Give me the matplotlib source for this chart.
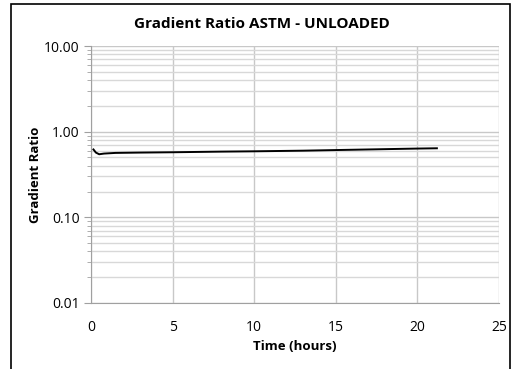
import numpy as np
import matplotlib
matplotlib.use("Agg")
import matplotlib.pyplot as plt
from matplotlib.ticker import FixedLocator, FormatStrFormatter, NullFormatter
from matplotlib.patches import Rectangle

# values
hours = [0.15, 0.3, 0.5, 0.8, 1.5, 3, 5, 8, 10, 13, 15, 18, 20, 21.2]
ratio = [0.62, 0.57, 0.545, 0.555, 0.565, 0.57, 0.575, 0.585, 0.59, 0.60, 0.61, 0.625, 0.635, 0.64]

xticks = [0, 5, 10, 15, 20, 25]
yticks = [0.01, 0.1, 1, 10]

plt.rcParams['font.family'] = ['Open Sans', 'DejaVu Sans']

fig = plt.figure(figsize=(5.15, 3.69), dpi=100)
ax = fig.add_axes([0.1767, 0.1789, 0.792, 0.6964])

ax.plot(hours, ratio, color='black', lw=1.4)
ax.set_yscale('log')
ax.set_xlim(0, 25)
ax.set_ylim(0.01, 10)
ax.set_xticks(xticks)
ax.yaxis.set_major_locator(FixedLocator(yticks))
ax.yaxis.set_major_formatter(FormatStrFormatter('%.2f'))
minors = [m * d for d in [0.01, 0.1, 1] for m in range(2, 10)]
ax.yaxis.set_minor_locator(FixedLocator(minors))
ax.yaxis.set_minor_formatter(NullFormatter())

ax.grid(True, which='major', color='#c8c8c8', lw=1)
ax.grid(True, which='minor', axis='y', color='#d8d8d8', lw=1)
for s in ['top', 'right']:
    ax.spines[s].set_visible(False)
for s in ['left', 'bottom']:
    ax.spines[s].set_color('#a0a0a0')
ax.tick_params(axis='x', length=0, pad=12, labelsize=10)
ax.tick_params(axis='y', which='major', length=5, color='#a0a0a0', labelsize=10, pad=3)
ax.tick_params(axis='y', which='minor', length=3, color='#a0a0a0')

fig.text(0.509, 0.935, 'Gradient Ratio ASTM - UNLOADED', fontsize=11, fontweight='bold',
         ha='center', va='center')
ax.set_xlabel('Time (hours)', fontsize=9.5, fontweight='bold', labelpad=4)
ax.set_ylabel('Gradient Ratio', fontsize=9.5, fontweight='bold')
ax.yaxis.set_label_coords(-0.12, 0.5)

fig.patches.append(Rectangle((0.021, -0.01), 0.97, 1.0, transform=fig.transFigure,
                             fill=False, edgecolor='black', lw=1.2))

fig.savefig('out.png', dpi=100)
